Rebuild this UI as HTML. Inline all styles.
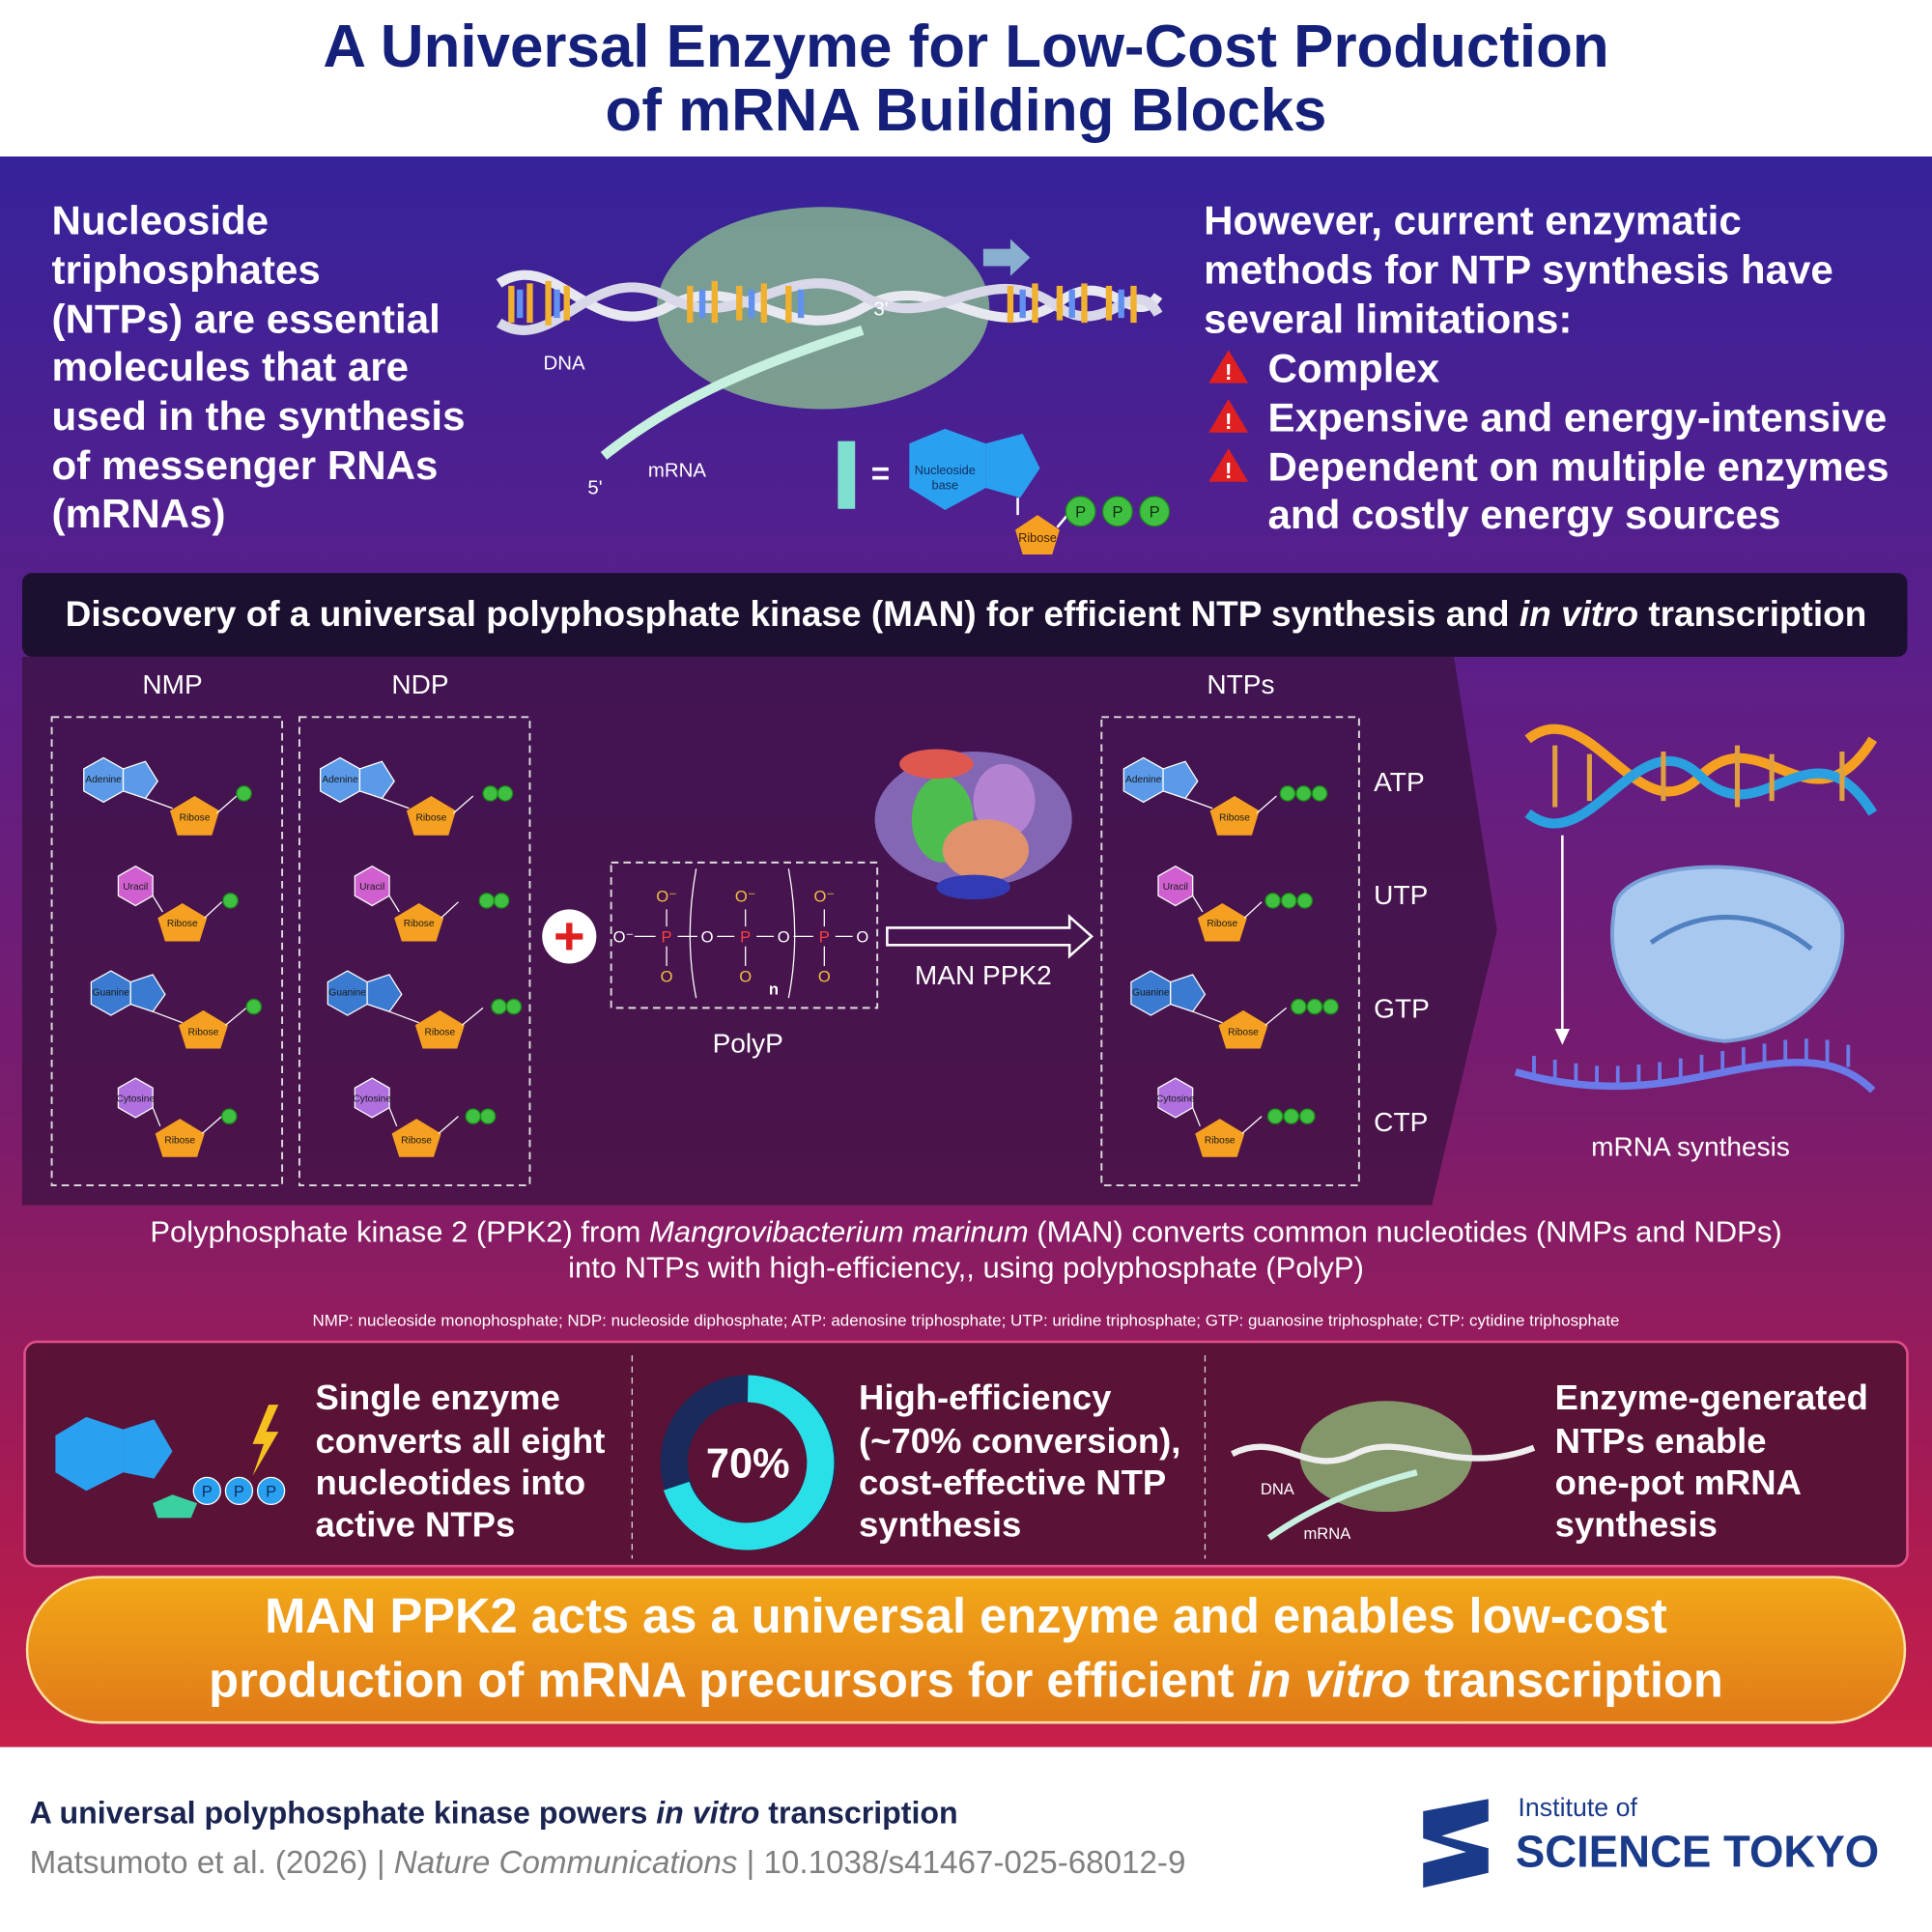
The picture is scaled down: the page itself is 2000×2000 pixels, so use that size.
<!DOCTYPE html>
<html><head><meta charset="utf-8"><style>
html,body{margin:0;padding:0;background:#fff}
svg{display:block}
text{font-family:"Liberation Sans",sans-serif}
</style></head><body>
<svg width="2000" height="2000" viewBox="0 0 1568 1568" xmlns="http://www.w3.org/2000/svg">
<defs>
<linearGradient id="bg" x1="0" y1="0" x2="0" y2="1">
<stop offset="0" stop-color="#36229a"/><stop offset="0.3" stop-color="#5a1f8a"/><stop offset="0.6" stop-color="#7a1c6c"/><stop offset="0.85" stop-color="#a81b52"/><stop offset="1" stop-color="#c81f4a"/></linearGradient>
<linearGradient id="pill" x1="0" y1="0" x2="0" y2="1"><stop offset="0" stop-color="#f2a818"/><stop offset="1" stop-color="#e07a18"/></linearGradient>
</defs>
<rect x="0" y="0" width="1568" height="127" fill="#fff"/>
<text x="784" y="54" text-anchor="middle" font-size="48.5" font-weight="bold" fill="#14207a">A Universal Enzyme for Low-Cost Production</text>
<text x="784" y="106" text-anchor="middle" font-size="48.5" font-weight="bold" fill="#14207a">of mRNA Building Blocks</text>
<rect x="0" y="127" width="1568" height="1291" fill="url(#bg)"/>
<g font-size="33" font-weight="bold" fill="#fff">
<text x="42" y="190">Nucleoside</text><text x="42" y="230">triphosphates</text><text x="42" y="270">(NTPs) are essential</text><text x="42" y="309">molecules that are</text><text x="42" y="349">used in the synthesis</text><text x="42" y="389">of messenger RNAs</text><text x="42" y="428">(mRNAs)</text>
<text x="977" y="190">However, current enzymatic</text><text x="977" y="230">methods for NTP synthesis have</text><text x="977" y="270">several limitations:</text>
<text x="1029" y="310">Complex</text><text x="1029" y="350">Expensive and energy-intensive</text><text x="1029" y="390">Dependent on multiple enzymes</text><text x="1029" y="429">and costly energy sources</text>
</g>
<g fill="#e02020"><polygon points="997,284 1013,311 981,311"/><polygon points="997,324 1013,351 981,351"/><polygon points="997,364 1013,391 981,391"/></g>
<g fill="#fff" font-size="18" font-weight="bold" text-anchor="middle"><text x="997" y="308">!</text><text x="997" y="348">!</text><text x="997" y="388">!</text></g>
<ellipse cx="668" cy="250" rx="135" ry="82" fill="#a0f090" opacity="0.6"/>
<path d="M405,230 C450,200 480,280 540,250 C600,215 640,285 700,250 C760,215 800,285 860,245 C900,215 920,270 940,240" stroke="#e8e8f0" stroke-width="8" fill="none"/>
<path d="M405,262 C450,290 480,210 540,240 C600,275 640,205 700,240 C760,275 800,205 860,250 C900,275 920,220 940,255" stroke="#d8d8e8" stroke-width="8" fill="none"/>
<g stroke-width="5"><path d="M415,232V262M430,230V262M445,228V264M460,232V260M560,232V262M580,228V262M600,232V260M620,230V262M640,232V262M820,232V262M840,230V262M860,232V260M880,230V262M900,232V260M920,232V262" stroke="#f0b030"/><path d="M422,235V258M452,235V258M570,235V258M610,235V258M650,235V258M830,235V258M870,235V258M910,235V258" stroke="#6090f0"/></g>
<path d="M490,370 C540,330 600,300 700,268" stroke="#c8f0e0" stroke-width="8" fill="none"/>
<polygon points="798,202 820,202 820,194 836,209 820,224 820,216 798,216" fill="#8ab0d0"/>
<g fill="#fff" font-size="16"><text x="441" y="300">DNA</text><text x="526" y="387">mRNA</text><text x="477" y="401">5'</text><text x="709" y="256">3'</text></g>
<rect x="680" y="358" width="14" height="55" fill="#80e0d0"/>
<text x="707" y="393" fill="#fff" font-size="26" font-weight="bold">=</text>
<polygon points="767,348 800,360 800,396 767,414 738,396 738,360" fill="#2aa0f0"/>
<polygon points="800,360 830,352 844,380 828,404 800,396" fill="#2aa0f0"/>
<text x="767" y="385" text-anchor="middle" font-size="10" fill="#103060">Nucleoside</text><text x="767" y="397" text-anchor="middle" font-size="10" fill="#103060">base</text>
<polygon points="842,418 860,430 854,450 830,450 824,430" fill="#f5a020"/><text x="842" y="440" text-anchor="middle" font-size="10" fill="#402000">Ribose</text>
<path d="M826,404 V418 M858,428 L868,416" stroke="#fff" stroke-width="2"/>
<g fill="#40c040" stroke="#1a8a1a"><circle cx="877" cy="415" r="12"/><circle cx="907" cy="415" r="12"/><circle cx="937" cy="415" r="12"/></g>
<g font-size="13" text-anchor="middle" fill="#103010"><text x="877" y="420">P</text><text x="907" y="420">P</text><text x="937" y="420">P</text></g>
<rect x="18" y="465" width="1530" height="68" rx="8" fill="#1c1030"/>
<text x="784" y="508" text-anchor="middle" font-size="29" font-weight="bold" fill="#fff">Discovery of a universal polyphosphate kinase (MAN) for efficient NTP synthesis and <tspan font-style="italic">in vitro</tspan> transcription</text>
<polygon points="18,533 1180,533 1215,755 1162,978 18,978" fill="#3a1240" opacity="0.75"/>
<g fill="#fff" font-size="22" text-anchor="middle"><text x="140" y="563">NMP</text><text x="341" y="563">NDP</text><text x="1007" y="563">NTPs</text><text x="607" y="854">PolyP</text><text x="798" y="799">MAN PPK2</text><text x="1372" y="938">mRNA synthesis</text></g>
<g fill="none" stroke="#ddd" stroke-width="1.5" stroke-dasharray="6,4"><rect x="42" y="582" width="187" height="380"/><rect x="243" y="582" width="187" height="380"/><rect x="894" y="582" width="209" height="380"/><rect x="496" y="700" width="216" height="118"/></g>
<g fill="#fff" font-size="22"><text x="1115" y="642">ATP</text><text x="1115" y="734">UTP</text><text x="1115" y="826">GTP</text><text x="1115" y="918">CTP</text></g>
<g id="col1">
<polygon points="84,615 100,624 100,642 84,651 68,642 68,624" fill="#5a9ae8" stroke="#fff" stroke-width="1"/><polygon points="100,624 118,618 128,634 118,648 100,642" fill="#5a9ae8" stroke="#fff" stroke-width="1"/>
<polygon points="158,646 178,658 172,678 144,678 138,658" fill="#f5a020"/><path d="M118,648 L140,656 M176,660 L192,646" stroke="#fff"/>
<polygon points="110,703 124,711 124,727 110,735 96,727 96,711" fill="#d060d0" stroke="#fff" stroke-width="1"/><polygon points="148,733 168,745 162,764 134,764 128,745" fill="#f5a020"/><path d="M124,727 L132,740 M166,745 L180,732" stroke="#fff"/>
<polygon points="90,788 106,797 106,815 90,824 74,815 74,797" fill="#3a7ad0" stroke="#fff" stroke-width="1"/><polygon points="106,797 124,791 134,807 124,821 106,815" fill="#3a7ad0" stroke="#fff" stroke-width="1"/><polygon points="165,820 185,832 179,851 151,851 145,832" fill="#f5a020"/><path d="M124,821 L148,830 M183,832 L200,818" stroke="#fff"/>
<polygon points="110,875 124,883 124,899 110,907 96,899 96,883" fill="#b070e0" stroke="#fff" stroke-width="1"/><polygon points="146,908 166,920 160,939 132,939 126,920" fill="#f5a020"/><path d="M124,899 L130,914 M164,920 L180,906" stroke="#fff"/>
</g>
<g fill="#1a1a1a" font-size="8" text-anchor="middle"><text x="84" y="635">Adenine</text><text x="158" y="666">Ribose</text><text x="110" y="722">Uracil</text><text x="148" y="752">Ribose</text><text x="90" y="808">Guanine</text><text x="165" y="840">Ribose</text><text x="110" y="894">Cytosine</text><text x="146" y="928">Ribose</text></g>
<use href="#col1" x="192" y="0"/>
<g fill="#1a1a1a" font-size="8" text-anchor="middle"><text x="276" y="635">Adenine</text><text x="350" y="666">Ribose</text><text x="302" y="722">Uracil</text><text x="340" y="752">Ribose</text><text x="282" y="808">Guanine</text><text x="357" y="840">Ribose</text><text x="302" y="894">Cytosine</text><text x="338" y="928">Ribose</text></g>
<use href="#col1" x="844" y="0"/>
<g fill="#1a1a1a" font-size="8" text-anchor="middle"><text x="928" y="635">Adenine</text><text x="1002" y="666">Ribose</text><text x="954" y="722">Uracil</text><text x="992" y="752">Ribose</text><text x="934" y="808">Guanine</text><text x="1009" y="840">Ribose</text><text x="954" y="894">Cytosine</text><text x="990" y="928">Ribose</text></g>
<g fill="#40c040" stroke="#1a8a1a">
<circle cx="198" cy="644" r="6"/><circle cx="187" cy="731" r="6"/><circle cx="206" cy="817" r="6"/><circle cx="186" cy="906" r="6"/>
<circle cx="398" cy="644" r="6"/><circle cx="410" cy="644" r="6"/><circle cx="395" cy="731" r="6"/><circle cx="407" cy="731" r="6"/><circle cx="405" cy="817" r="6"/><circle cx="417" cy="817" r="6"/><circle cx="384" cy="906" r="6"/><circle cx="396" cy="906" r="6"/>
<circle cx="1045" cy="644" r="6"/><circle cx="1058" cy="644" r="6"/><circle cx="1071" cy="644" r="6"/><circle cx="1033" cy="731" r="6"/><circle cx="1046" cy="731" r="6"/><circle cx="1059" cy="731" r="6"/><circle cx="1054" cy="817" r="6"/><circle cx="1067" cy="817" r="6"/><circle cx="1080" cy="817" r="6"/><circle cx="1035" cy="906" r="6"/><circle cx="1048" cy="906" r="6"/><circle cx="1061" cy="906" r="6"/>
</g>
<circle cx="462" cy="760" r="22" fill="#fff"/><path d="M462,749V771M451,760H473" stroke="#e02020" stroke-width="5"/>
<g font-size="13" fill="#ff4040" text-anchor="middle"><text x="506" y="765" fill="#fff">O⁻</text><text x="541" y="765">P</text><text x="574" y="765" fill="#fff">O</text><text x="605" y="765">P</text><text x="636" y="765" fill="#fff">O</text><text x="669" y="765">P</text><text x="700" y="765" fill="#fff">O</text>
<text x="541" y="732" fill="#f0c040">O⁻</text><text x="605" y="732" fill="#f0c040">O⁻</text><text x="669" y="732" fill="#f0c040">O⁻</text><text x="541" y="797" fill="#f0c040">O</text><text x="605" y="797" fill="#f0c040">O</text><text x="669" y="797" fill="#f0c040">O</text><text x="628" y="807" fill="#fff" font-weight="bold">n</text></g>
<path d="M515,760H532M550,760H566M582,760H596M614,760H628M644,760H660M678,760H692M541,738V752M605,738V752M669,738V752M541,768V784M605,768V784M669,768V784M565,705 Q555,760 565,810 M640,705 Q650,760 640,810" stroke="#fff" fill="none"/>
<path d="M720,753H868V744L886,760L868,776V767H720Z" fill="none" stroke="#fff" stroke-width="2"/>
<g opacity="0.9"><ellipse cx="790" cy="665" rx="80" ry="55" fill="#8a70c0"/><ellipse cx="765" cy="665" rx="25" ry="35" fill="#50d050"/><ellipse cx="815" cy="650" rx="25" ry="30" fill="#c090e0"/><ellipse cx="800" cy="690" rx="35" ry="25" fill="#f0a070"/><ellipse cx="760" cy="620" rx="30" ry="12" fill="#f06050"/><ellipse cx="790" cy="720" rx="30" ry="10" fill="#3040c0"/></g>
<path d="M1240,600 C1290,560 1330,680 1380,630 C1430,580 1470,680 1520,600" stroke="#f5a020" stroke-width="8" fill="none"/>
<path d="M1240,660 C1290,700 1330,580 1380,630 C1430,680 1470,580 1520,660" stroke="#2aa0e0" stroke-width="8" fill="none"/>
<g stroke="#e0a040" stroke-width="4"><path d="M1262,605V655M1290,612V650M1350,610V650M1410,605V655M1438,612V650M1495,610V650"/></g>
<path d="M1268,678V840" stroke="#fff" stroke-width="2"/><polygon points="1262,835 1274,835 1268,848" fill="#fff"/>
<path d="M1310,740 C1310,690 1480,690 1495,750 C1500,800 1460,840 1400,845 C1340,840 1300,800 1310,740Z" fill="#a8c8f0" stroke="#7aa0d8" stroke-width="3"/>
<path d="M1340,765 C1390,730 1440,745 1470,770" stroke="#5080c0" stroke-width="4" fill="none"/>
<path d="M1230,870 C1300,890 1350,880 1400,870 C1450,860 1490,855 1520,885" stroke="#6a7ae8" stroke-width="6" fill="none"/>
<g stroke="#6a7ae8" stroke-width="3"><path d="M1245,874V857M1262,878V860M1279,881V863M1296,883V865M1313,883V865M1330,882V864M1347,880V862M1364,877V859M1381,874V856M1398,871V853M1415,868V850M1432,865V847M1449,862V844M1466,861V843M1483,862V844M1500,866V848"/></g>
<g fill="#fff" text-anchor="middle"><text x="784" y="1008" font-size="24.3">Polyphosphate kinase 2 (PPK2) from <tspan font-style="italic">Mangrovibacterium marinum</tspan> (MAN) converts common nucleotides (NMPs and NDPs)</text>
<text x="784" y="1037" font-size="24.3">into NTPs with high-efficiency,, using polyphosphate (PolyP)</text>
<text x="784" y="1076" font-size="13.3">NMP: nucleoside monophosphate; NDP: nucleoside diphosphate; ATP: adenosine triphosphate; UTP: uridine triphosphate; GTP: guanosine triphosphate; CTP: cytidine triphosphate</text></g>
<rect x="20" y="1089" width="1528" height="182" rx="10" fill="#5a1236" stroke="#e0508a" stroke-width="2"/>
<path d="M513,1100V1265M978,1100V1265" stroke="#ddd" stroke-dasharray="5,4"/>
<polygon points="70,1150 100,1160 100,1195 70,1210 45,1195 45,1165" fill="#2aa0f0"/><polygon points="100,1160 125,1152 140,1178 125,1200 100,1195" fill="#2aa0f0"/>
<polygon points="140,1213 160,1220 155,1232 128,1232 124,1220" fill="#3ad0a0"/>
<g fill="#2aa0f0" stroke="#fff"><circle cx="168" cy="1210" r="11"/><circle cx="194" cy="1210" r="11"/><circle cx="220" cy="1210" r="11"/></g>
<g font-size="13" text-anchor="middle" fill="#103060"><text x="168" y="1215">P</text><text x="194" y="1215">P</text><text x="220" y="1215">P</text></g>
<polygon points="218,1140 205,1172 214,1172 205,1198 226,1162 216,1162 226,1140" fill="#f5c020"/>
<circle cx="607" cy="1187" r="60" fill="none" stroke="#1a2a5a" stroke-width="22"/>
<path d="M607,1127 A60,60 0 1 1 549,1206" fill="none" stroke="#2ae0e8" stroke-width="22"/>
<text x="607" y="1199" text-anchor="middle" font-size="34" font-weight="bold" fill="#fff">70%</text>
<ellipse cx="1125" cy="1182" rx="70" ry="45" fill="#a0f090" opacity="0.6"/>
<path d="M1000,1180 C1040,1160 1060,1200 1100,1180 C1140,1160 1180,1200 1245,1175" stroke="#eee" stroke-width="5" fill="none"/>
<path d="M1030,1248 C1070,1220 1110,1205 1150,1195" stroke="#c8f0e0" stroke-width="5" fill="none"/>
<g fill="#fff" font-size="13"><text x="1023" y="1213">DNA</text><text x="1058" y="1249">mRNA</text></g>
<g font-size="28.6" font-weight="bold" fill="#fff">
<text x="256" y="1144">Single enzyme</text><text x="256" y="1179">converts all eight</text><text x="256" y="1213">nucleotides into</text><text x="256" y="1247">active NTPs</text>
<text x="697" y="1144">High-efficiency</text><text x="697" y="1179">(~70% conversion),</text><text x="697" y="1213">cost-effective NTP</text><text x="697" y="1247">synthesis</text>
<text x="1262" y="1144">Enzyme-generated</text><text x="1262" y="1179">NTPs enable</text><text x="1262" y="1213">one-pot mRNA</text><text x="1262" y="1247">synthesis</text></g>
<rect x="22" y="1280" width="1524" height="118" rx="59" fill="url(#pill)" stroke="#f8e0a0" stroke-width="2"/>
<g font-size="39.7" font-weight="bold" fill="#fff" text-anchor="middle"><text x="784" y="1325">MAN PPK2 acts as a universal enzyme and enables low-cost</text><text x="784" y="1377">production of mRNA precursors for efficient <tspan font-style="italic">in vitro</tspan> transcription</text></g>
<rect x="0" y="1418" width="1568" height="150" fill="#fff"/>
<text x="24" y="1480" font-size="25.2" font-weight="bold" fill="#1a2450">A universal polyphosphate kinase powers <tspan font-style="italic">in vitro</tspan> transcription</text>
<text x="24" y="1520" font-size="26" fill="#808080">Matsumoto et al. (2026) | <tspan font-style="italic">Nature Communications</tspan> | 10.1038/s41467-025-68012-9</text>
<polygon points="1155,1470 1208,1460 1208,1478 1170,1490 1208,1500 1208,1520 1155,1532 1155,1512 1190,1503 1155,1492" fill="#1a3a8a"/>
<text x="1232" y="1474" font-size="21" fill="#1a3a8a">Institute of</text>
<text x="1230" y="1515" font-size="36" font-weight="bold" fill="#1a3a8a" textLength="295" lengthAdjust="spacingAndGlyphs">SCIENCE TOKYO</text>
</svg>
</body></html>
